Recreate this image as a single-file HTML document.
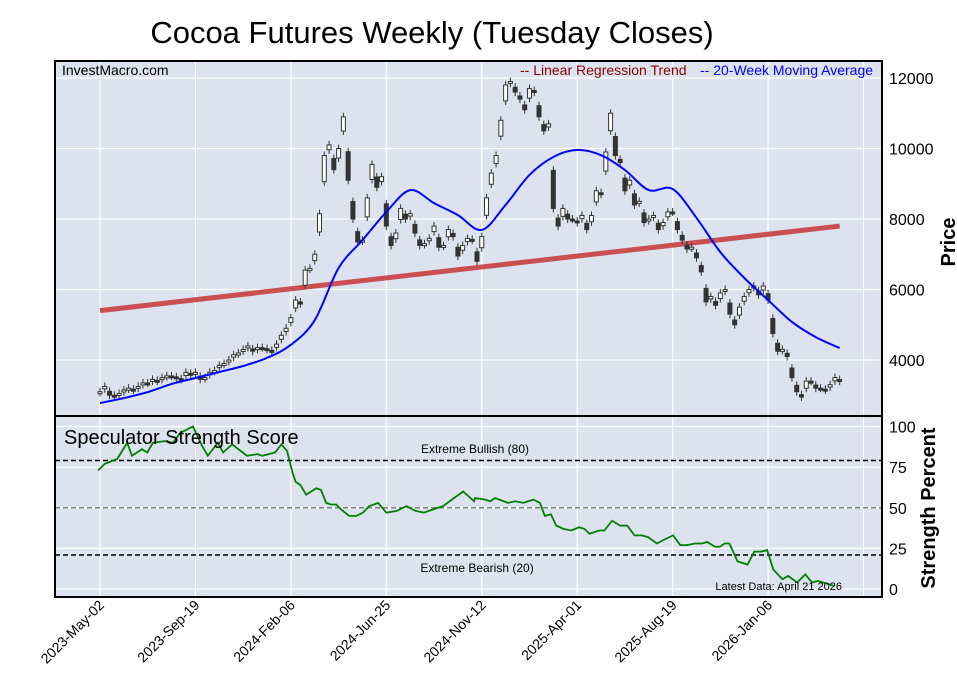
<!DOCTYPE html>
<html><head><meta charset="utf-8"><style>
html,body{margin:0;padding:0;background:#fff;}
svg{display:block;font-family:"Liberation Sans",sans-serif;}
</style></head><body>
<svg id="c" width="957" height="694" viewBox="0 0 957 694" xmlns="http://www.w3.org/2000/svg">
<text x="432" y="43" font-size="31" text-anchor="middle" fill="#000">Cocoa Futures Weekly (Tuesday Closes)</text>
<rect x="55" y="61" width="827" height="355" fill="#dce2ee"/>
<rect x="55" y="416" width="827" height="181" fill="#dce2ee"/>
<g id="grid"></g>
<g id="marks"></g>
<rect x="55" y="61" width="827" height="536" fill="none" stroke="#000" stroke-width="2"/>
<line x1="55" y1="416" x2="882" y2="416" stroke="#000" stroke-width="2"/>
<text x="62" y="75" font-size="14">InvestMacro.com</text>
<text x="520" y="75" font-size="14" fill="#8b0000">-- Linear Regression Trend</text>
<text x="700" y="75" font-size="14" fill="#0000ff">-- 20-Week Moving Average</text>
<text x="64" y="444" font-size="20">Speculator Strength Score</text>
<text x="475" y="453" font-size="12" text-anchor="middle">Extreme Bullish (80)</text>
<text x="477" y="572" font-size="12" text-anchor="middle">Extreme Bearish (20)</text>
<text x="842" y="590" font-size="11" text-anchor="end">Latest Data: April 21 2026</text>
<text transform="translate(955,242) rotate(-90)" font-size="20" font-weight="bold" text-anchor="middle">Price</text>
<text transform="translate(935,508) rotate(-90)" font-size="20" font-weight="bold" text-anchor="middle">Strength Percent</text>
<g id="axes"></g>
</svg>
<script>
const closes=[3100,3250,3000,3000,3050,3150,3200,3150,3250,3350,3350,3450,3400,3500,3550,3550,3500,3450,3650,3600,3650,3450,3500,3650,3700,3850,3900,4000,4150,4200,4300,4400,4250,4350,4350,4300,4250,4450,4700,4900,5200,5700,5600,6550,6600,7000,8150,9800,10100,9400,10000,10900,9100,8000,7350,7400,8600,9550,8900,9200,7800,7250,7600,8300,8000,8150,7600,7250,7300,7450,7800,7200,7250,7700,7500,6950,7250,7450,7400,6800,7500,8600,9300,9800,10800,11800,11900,11600,11400,11100,11700,11600,10900,10500,10700,8300,7800,8300,8000,8000,7900,8100,7700,8100,8800,8700,9900,11000,9800,9600,8800,9100,8400,8500,7900,8000,8100,7700,7900,8200,8200,7700,7400,7150,7200,6900,6500,5650,5800,5550,5900,6000,5300,5000,5500,5800,6000,6100,5850,6100,5700,4750,4250,4300,4100,3500,3100,2950,3400,3400,3200,3200,3150,3300,3500,3400];
const firstOpen=3050;
const maWeeks=[0,5,10,15,20,25,30,35,40,45,50,55,60,65,70,75,80,85,90,95,100,105,110,115,120,125,130,135,140,145,150,155];
const maValues=[2780,2920,3090,3320,3490,3660,3830,4060,4430,5130,6610,7400,8200,8820,8450,8110,7690,8400,9250,9760,9960,9810,9390,8820,8850,8030,7060,6330,5700,5080,4650,4340];
const regWeeks=[0,155];
const regValues=[5400,7800];
const ssWeeks=[-0.4,1,3.6,5.7,6.7,8.8,9.9,11.1,13.6,15.3,16.8,19.5,21.4,22.6,24.7,25.8,27.7,30.8,33,34,36.7,38,39.2,40.3,41,42,43.2,45.3,46.3,47.4,48.4,49.5,50.5,52.2,53.7,55.1,56.4,58.3,60,62.1,64.2,66.2,67.9,69.8,71.9,74.2,76.1,78.4,78.6,80.7,81.8,82.8,85.5,87,88.7,90.8,92.2,93.2,94.5,95.6,97.1,98.8,100.4,101.5,102.6,104.6,105.7,107.3,109,110.5,112,113.5,114.8,116.7,118,120.1,121.6,123,124.7,126.2,127.2,128.9,129.9,130.9,131.9,133.6,135.7,137.1,138.6,139.8,141.1,143,144.2,146.1,147.8,149.2,150.5,152.6,153.7];
const ssValues=[73,77,80,90,82,86,84,90,91,90,96,100,88,82,90,84,89,82,83,82,84,89,85,72,66,64,58,62,61,53,52,52,49,45,45,47,51,53,47,48,51,48,47,49,51,56,60,54,56,55,54,56,53,54,53,55,53,45,46,39,37,36,38,37,34,36,36,42,39,39,33,33,32,28,30,33,27,27,28,28,29,26,26,28,28,17,15,23,23,24,12,6,8,4,9,4,5,3,2,2];
const priceTicks=[12000,10000,8000,6000,4000];
const ssTicks=[100,75,50,25,0];
const dateLabels=["2023-May-02","2023-Sep-19","2024-Feb-06","2024-Jun-25","2024-Nov-12","2025-Apr-01","2025-Aug-19","2026-Jan-06"];
const dateWeeks=[0,20,40,60,80,100,120,140];
const extremeLevels=[80,20];

const NS="http://www.w3.org/2000/svg";
const X=w=>100+w*4.772;
const Y=p=>78+(12000-p)*0.035250;
const S=v=>589-v*1.625;
const grid=document.getElementById('grid'),marks=document.getElementById('marks'),axes=document.getElementById('axes');
function mk(tag,attrs,parent){const e=document.createElementNS(NS,tag);for(const k in attrs)e.setAttribute(k,attrs[k]);parent.appendChild(e);return e;}
function smooth(pts){let d='M'+pts[0][0]+','+pts[0][1];for(let i=0;i<pts.length-1;i++){const p0=pts[Math.max(0,i-1)],p1=pts[i],p2=pts[i+1],p3=pts[Math.min(pts.length-1,i+2)];const c1=[p1[0]+(p2[0]-p0[0])/6,p1[1]+(p2[1]-p0[1])/6],c2=[p2[0]-(p3[0]-p1[0])/6,p2[1]-(p3[1]-p1[1])/6];d+=` C${c1[0]},${c1[1]} ${c2[0]},${c2[1]} ${p2[0]},${p2[1]}`;}return d;}

[...dateWeeks,160].forEach(w=>{
  const g=mk('line',{x1:X(w),x2:X(w),y1:61,y2:597,stroke:'#fff','stroke-width':1.2},grid);
  
  
});
priceTicks.forEach(p=>{
  const g=mk('line',{x1:55,x2:882,y1:Y(p),y2:Y(p),stroke:'#fff','stroke-width':1.2},grid);
  
  
  const t=mk('text',{x:889,y:Y(p)+6,'font-size':16},axes);t.textContent=p;
  
  
});
ssTicks.forEach(v=>{
  const g=mk('line',{x1:55,x2:882,y1:S(v),y2:S(v),stroke:'#fff','stroke-width':1.2},grid);
  
  
  const t=mk('text',{x:889,y:S(v)+6,'font-size':16},axes);t.textContent=v;
  
  
});
dateWeeks.forEach((w,i)=>{
  const t=mk('text',{x:0,y:0,'font-size':14,'text-anchor':'end',transform:`translate(${X(w)+5},${606}) rotate(-45)`},axes);
  t.textContent=dateLabels[i];
  
  
});

const reg=mk('line',{x1:X(regWeeks[0]),y1:Y(regValues[0]),x2:X(regWeeks[1]),y2:Y(regValues[1]),stroke:'#c85050','stroke-width':5},marks);



closes.forEach((c,i)=>{
  const prev=i===0?firstOpen:closes[i-1];
  const o=c+(prev-c)*0.45;
  const x=X(i),up=c>o;
  const top=Y(Math.max(o,c)),bot=Y(Math.min(o,c));
  const w=mk('line',{x1:x,x2:x,y1:top-4,y2:bot+4,stroke:'#333','stroke-width':1},marks);
  
  
  const b=mk('rect',{x:x-2,y:top,width:4,height:Math.max(2,bot-top),fill:up?'#fff':'#333',stroke:'#333','stroke-width':1},marks);
  
  
});

const ma=mk('path',{d:smooth(maWeeks.map((w,i)=>[X(w),Y(maValues[i])])),fill:'none',stroke:'#0000ff','stroke-width':2},marks);



const mid=mk('line',{x1:55,x2:882,y1:S(50),y2:S(50),stroke:'#808080','stroke-width':1.5,'stroke-dasharray':'5,3'},marks);


extremeLevels.forEach(v=>{
  const l=mk('line',{x1:55,x2:882,y1:S(v)+(v===80?1.5:-1.5),y2:S(v)+(v===80?1.5:-1.5),stroke:'#000','stroke-width':1.5,'stroke-dasharray':'5,3'},marks);
  
  
});
const ss=mk('polyline',{points:ssWeeks.map((w,i)=>X(w)+','+S(ssValues[i])).join(' '),fill:'none',stroke:'#008000','stroke-width':1.8},marks);


</script>
</body></html>
